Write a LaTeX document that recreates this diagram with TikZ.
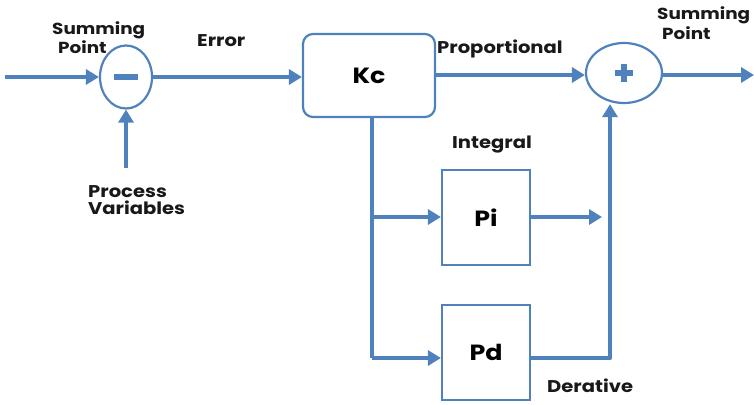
\documentclass[tikz,border=0pt]{standalone}
\usepackage{fontspec}
\setmainfont{Poppins}[FakeStretch=1.15]
\usetikzlibrary{arrows.meta,shapes.geometric}
\definecolor{lblue}{RGB}{79,129,189}
\begin{document}
\begin{tikzpicture}[x=1pt,y=-1pt,
  flow/.style={draw=lblue,line width=4.5pt,-{Triangle[length=13pt,width=15pt]}},
  line/.style={draw=lblue,line width=4.5pt},
  blockbox/.style={draw=lblue,line width=2.2pt,fill=white,inner sep=0pt,text=black,font=\bfseries\fontsize{22}{24}\selectfont},
  sumpt/.style={draw=lblue,line width=2.2pt,ellipse,inner sep=0pt},
  lbl/.style={font=\bfseries\fontsize{17}{17}\selectfont,inner sep=0pt,text=black!90,anchor=base west,align=left}]
\useasboundingbox (0,0) rectangle (754,404);
% summing points
\node[sumpt,minimum width=52pt,minimum height=63pt] (s1) at (126,77) {};
\node[sumpt,minimum width=76pt,minimum height=60pt] (s2) at (624,73) {};
\fill[lblue] ([xshift=-12pt,yshift=-3pt]s1.center) rectangle ([xshift=12pt,yshift=3pt]s1.center);
\draw[lblue,line width=6pt] ([xshift=-9pt]s2.center) -- ([xshift=9pt]s2.center);
\draw[lblue,line width=6pt] ([yshift=-9pt]s2.center) -- ([yshift=9pt]s2.center);
% blocks
\node[blockbox,rounded corners=10pt,minimum width=132pt,minimum height=83pt] (kc) at (369,75.5) {Kc};
\node[blockbox,minimum width=88pt,minimum height=95pt] (pi) at (486,217.5) {Pi};
\node[blockbox,minimum width=88pt,minimum height=95pt] (pd) at (486,352.5) {Pd};
% coordinates
\coordinate (in) at (5,77);
\coordinate (pv) at (126,168);
\coordinate (out) at (754,75);
\coordinate (br) at (372,358);
\coordinate (bi) at (372,217);
\coordinate (piend) at (602,217);
\coordinate (rc) at (610,358);
% connectors
\draw[flow] (in) -- (s1.west);
\draw[flow] (pv) -- (s1.south);
\draw[flow] (s1.east) -- (kc.west |- s1.east);
\draw[flow] (kc.east |- 0,75) -- (s2.west |- 0,75);
\draw[flow] (s2.east |- 0,75) -- (out);
\draw[line,line join=round] (kc.south -| br) -- (br);
\draw[flow] (br) -- (pd.west |- br);
\draw[flow] (bi) -- (pi.west |- bi);
\draw[flow] (pi.east |- bi) -- (piend);
\draw[flow,line join=round] (pd.east |- rc) -- (rc) -- (rc |- s2.south);
% labels
\node[lbl,font=\bfseries\fontsize{16}{18}\selectfont] (t1) at (52,53) {Summing\\\hspace{6pt}Point};
\node[lbl] (t2) at (197,47) {Error};
\node[lbl] (t3) at (88,214) {Process\\Variables};
\node[lbl] (t4) at (437,53) {Proportional};
\node[lbl,font=\bfseries\fontsize{16}{20}\selectfont] (t5) at (657,40) {Summing\\\hspace{5pt}Point};
\node[lbl] (t6) at (452,148) {Integral};
\node[lbl] (t7) at (547,392) {Derative};
\end{tikzpicture}
\end{document}
